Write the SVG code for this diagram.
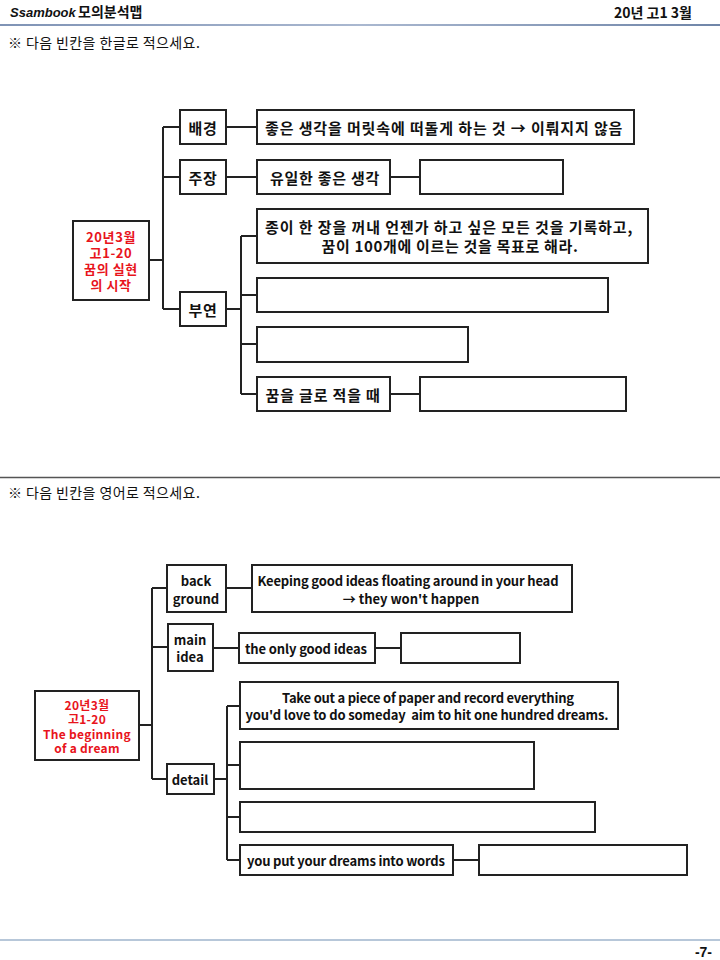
<svg xmlns="http://www.w3.org/2000/svg" width="720" height="960" viewBox="0 0 720 960">
<defs>
<linearGradient id="hdr" x1="0" y1="0" x2="1" y2="0">
<stop offset="0" stop-color="#7f93b5"/><stop offset="0.5" stop-color="#aab8d0"/><stop offset="1" stop-color="#6f85a8"/>
</linearGradient>
<style>
.bx{fill:#fff;stroke:#222;stroke-width:2}
.ln{fill:none;stroke:#222;stroke-width:2}
.t{font-family:"Noto Sans CJK KR","Noto Sans",sans-serif;font-weight:bold;fill:#111;dominant-baseline:central;text-anchor:middle}
.k{font-size:15px;letter-spacing:0.6px}
.e{font-size:13px}
.r{fill:#e8141c}
.rk{font-size:13px;letter-spacing:0.6px}
.re{font-size:12px;letter-spacing:0.3px}
.ins{font-family:"Noto Sans CJK KR","Noto Sans",sans-serif;font-size:14px;letter-spacing:0.4px;fill:#111}
</style>
</defs>
<rect width="720" height="960" fill="#fff"/>
<!-- header -->
<text x="10" y="17" font-family="Liberation Sans,sans-serif" font-style="italic" font-weight="bold" font-size="13" fill="#111">Ssambook</text>
<text x="78" y="17" font-family="Noto Sans CJK KR,sans-serif" font-weight="bold" font-size="14" fill="#111">모의분석맵</text>
<text x="692" y="18" text-anchor="end" font-family="Noto Sans CJK KR,sans-serif" font-weight="bold" font-size="14" fill="#111">20년 고1 3월</text>
<rect x="0" y="24" width="720" height="2" fill="url(#hdr)"/>
<text class="ins" x="8" y="48">※ 다음 빈칸을 한글로 적으세요.</text>

<!-- Korean diagram connectors -->
<g id="connectors-ko">
<path class="ln" d="M149 260 H163 M163 127 V309 M163 127 H180 M163 177 H180 M163 309 H180"/>
<path class="ln" d="M226 127 H257 M226 177 H257 M390 177 H420"/>
<path class="ln" d="M226 309 H241 M241 236 V394 M241 236 H257 M241 295 H257 M241 344 H257 M241 394 H257 M390 394 H420"/>
</g>
<g id="k-root"><rect class="bx" x="73" y="221" width="76" height="79"/>
<text class="t rk r"><tspan x="111" y="236">20년3월</tspan><tspan x="111" y="252">고1-20</tspan><tspan x="111" y="268">꿈의 실현</tspan><tspan x="111" y="284">의 시작</tspan></text></g>
<g id="k-bg"><rect class="bx" x="180" y="110" width="46" height="34"/><text class="t k" x="203" y="127">배경</text></g>
<g id="k-main"><rect class="bx" x="180" y="160" width="46" height="34"/><text class="t k" x="203" y="177">주장</text></g>
<g id="k-detail"><rect class="bx" x="180" y="292" width="46" height="34"/><text class="t k" x="203" y="309">부연</text></g>
<g id="k-bg1"><rect class="bx" x="257" y="110" width="377" height="34"/><text class="t k" x="444" y="127" textLength="358">좋은 생각을 머릿속에 떠돌게 하는 것 → 이뤄지지 않음</text></g>
<g id="k-main1"><rect class="bx" x="257" y="160" width="133" height="34"/><text class="t k" x="325" y="177" textLength="110">유일한 좋은 생각</text></g>
<g id="k-main2"><rect class="bx" x="420" y="160" width="143" height="34"/></g>
<g id="k-d1"><rect class="bx" x="257" y="209" width="391" height="54"/>
<text class="t k"><tspan x="449" y="226" textLength="368">종이 한 장을 꺼내 언젠가 하고 싶은 모든 것을 기록하고,</tspan><tspan x="450" y="245" textLength="257">꿈이 100개에 이르는 것을 목표로 해라.</tspan></text></g>
<g id="k-d2"><rect class="bx" x="257" y="278" width="351" height="34"/></g>
<g id="k-d3"><rect class="bx" x="257" y="327" width="211" height="35"/></g>
<g id="k-d4"><rect class="bx" x="257" y="377" width="133" height="34"/><text class="t k" x="323" y="394" textLength="115">꿈을 글로 적을 때</text></g>
<g id="k-d4b"><rect class="bx" x="420" y="377" width="206" height="34"/></g>

<line x1="0" y1="477.5" x2="720" y2="477.5" stroke="#555" stroke-width="1.5"/>
<text class="ins" x="8" y="498">※ 다음 빈칸을 영어로 적으세요.</text>

<!-- English diagram connectors -->
<g id="connectors-en">
<path class="ln" d="M139 725 H152 M152 588 V779 M152 588 H167 M152 647 H168 M152 779 H167"/>
<path class="ln" d="M226 588 H252 M213 648 H239 M375 648 H401"/>
<path class="ln" d="M214 779 H227 M227 706 V860 M227 706 H240 M227 765 H240 M227 817 H240 M227 860 H240 M453 860 H479"/>
</g>
<g id="e-root"><rect class="bx" x="35" y="691" width="104" height="69"/>
<text class="t re r"><tspan x="87" y="703.5">20년3월</tspan><tspan x="87" y="718">고1-20</tspan><tspan x="87" y="732.5">The beginning</tspan><tspan x="87" y="747">of a dream</tspan></text></g>
<g id="e-bg"><rect class="bx" x="167" y="565" width="59" height="47"/><text class="t e"><tspan x="196" y="580">back</tspan><tspan x="196" y="598">ground</tspan></text></g>
<g id="e-main"><rect class="bx" x="168" y="624" width="45" height="47"/><text class="t e"><tspan x="190" y="639">main</tspan><tspan x="190" y="656">idea</tspan></text></g>
<g id="e-detail"><rect class="bx" x="167" y="764" width="47" height="30"/><text class="t e" x="190" y="779">detail</text></g>
<g id="e-bg1"><rect class="bx" x="252" y="565" width="320" height="47"/>
<text class="t e"><tspan x="408" y="580" textLength="301">Keeping good ideas floating around in your head</tspan><tspan x="411" y="598">→ they won't happen</tspan></text></g>
<g id="e-main1"><rect class="bx" x="239" y="633" width="136" height="30"/><text class="t e" x="306" y="648" textLength="122">the only good ideas</text></g>
<g id="e-main2"><rect class="bx" x="401" y="633" width="119" height="30"/></g>
<g id="e-d1"><rect class="bx" x="240" y="682" width="378" height="47"/>
<text class="t e" style="white-space:pre" xml:space="preserve"><tspan x="428" y="697" textLength="292">Take out a piece of paper and record everything</tspan><tspan x="427" y="714" textLength="363">you'd love to do someday  aim to hit one hundred dreams.</tspan></text></g>
<g id="e-d2"><rect class="bx" x="240" y="742" width="294" height="47"/></g>
<g id="e-d3"><rect class="bx" x="240" y="802" width="355" height="30"/></g>
<g id="e-d4"><rect class="bx" x="240" y="845" width="213" height="30"/><text class="t e" x="346" y="860" textLength="198">you put your dreams into words</text></g>
<g id="e-d4b"><rect class="bx" x="479" y="845" width="208" height="30"/></g>

<line x1="0" y1="940" x2="720" y2="940" stroke="#9fb4cc" stroke-width="1.5"/>
<text x="712" y="957" text-anchor="end" font-family="Liberation Sans,sans-serif" font-weight="bold" font-size="14" fill="#111">-7-</text>
</svg>
